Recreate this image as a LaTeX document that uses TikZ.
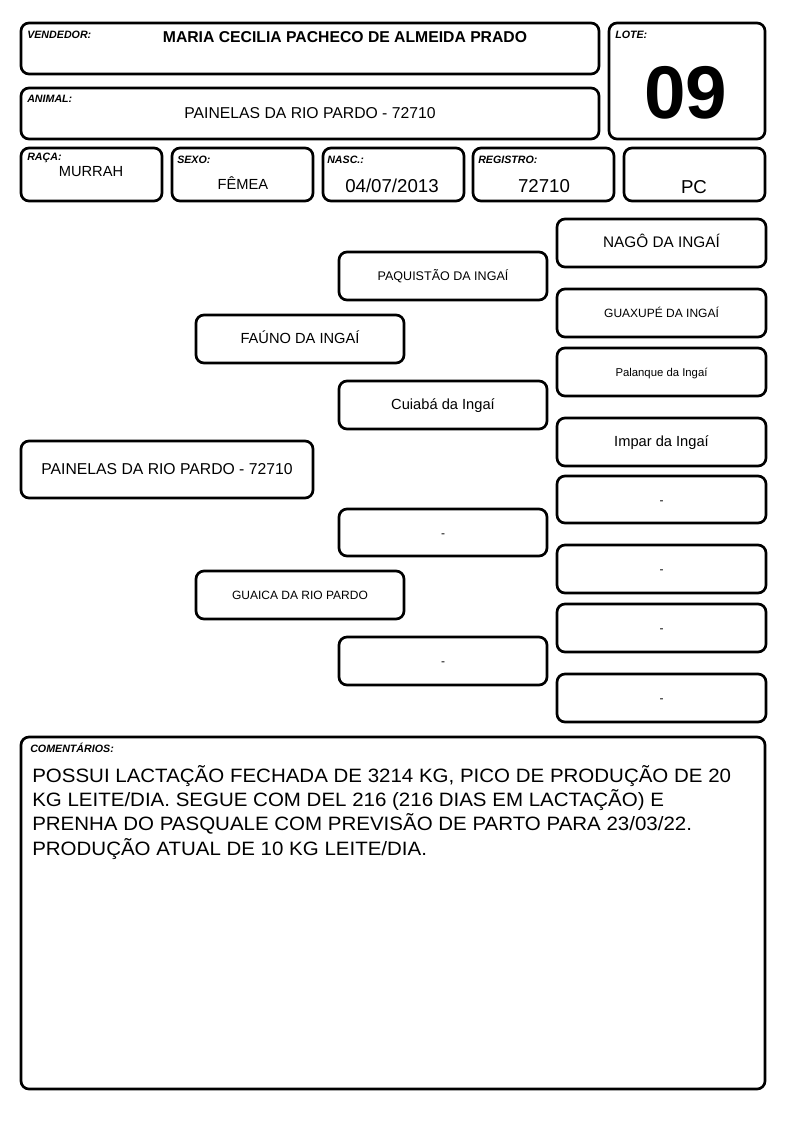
\documentclass[tikz,border=0pt]{standalone}
\usepackage{fontspec}
\setmainfont{Liberation Sans}
\newfontfamily\widefont[FakeStretch=1.06]{Liberation Sans}

\begin{document}
\begin{tikzpicture}[x=0.75pt,y=-0.75pt,
  pbox/.style={draw,rounded corners=6pt,line width=2pt,inner sep=0pt,text height=0.7em,text depth=0pt},
  fieldlbl/.style={anchor=west,inner sep=0pt,font=\fontsize{8}{9}\selectfont\bfseries\itshape},
  txt/.style={inner sep=0pt}]
\useasboundingbox (0,0) rectangle (794,1123);
% header
\node[pbox,minimum width=433.5pt,minimum height=38.25pt] (vend) at (310,48.5) {};
\node[pbox,minimum width=433.5pt,minimum height=38.25pt] (anim) at (310,113.5) {};
\node[pbox,minimum width=117pt,minimum height=87pt] (lote) at (687,81) {};
\node[pbox,minimum width=105.75pt,minimum height=39.75pt] (raca) at (91.5,174.5) {};
\node[pbox,minimum width=105.75pt,minimum height=39.75pt] (sexo) at (242.5,174.5) {};
\node[pbox,minimum width=105.75pt,minimum height=39.75pt] (nasc) at (393.5,174.5) {};
\node[pbox,minimum width=105.75pt,minimum height=39.75pt] (reg) at (543.5,174.5) {};
\node[pbox,minimum width=105.75pt,minimum height=39.75pt] (pc) at (694.5,174.5) {};
\node[fieldlbl] (vendlbl) at (27,35) {VENDEDOR:};
\node[fieldlbl] (animlbl) at (27,99) {ANIMAL:};
\node[fieldlbl] (lotelbl) at (615,35) {LOTE:};
\node[fieldlbl] (racalbl) at (27,158) {RAÇA:};
\node[fieldlbl] (sexolbl) at (177,160) {SEXO:};
\node[fieldlbl] (nasclbl) at (327,160) {NASC.:};
\node[fieldlbl] (reglbl) at (478,160) {REGISTRO:};
\node[txt,font=\fontsize{11.8}{12}\selectfont\bfseries] (vendtxt) at (345,37) {MARIA CECILIA PACHECO DE ALMEIDA PRADO};
\node[txt,font=\fontsize{11.8}{12}\selectfont] (animtxt) at (310,113) {PAINELAS DA RIO PARDO - 72710};
\node[txt,font=\fontsize{56}{56}\selectfont\bfseries] (lotetxt) at (686,93) {09};
\node[txt,font=\fontsize{11}{12}\selectfont] (racatxt) at (91,172) {MURRAH};
\node[txt,font=\fontsize{11}{12}\selectfont] (sexotxt) at (243,183) {FÊMEA};
\node[txt,font=\fontsize{14}{15}\selectfont] (nasctxt) at (392,186) {04/07/2013};
\node[txt,font=\fontsize{14}{15}\selectfont] (regtxt) at (544,186) {72710};
\node[txt,font=\fontsize{14}{15}\selectfont] (pctxt) at (694,187) {PC};
% pedigree
\node[pbox,minimum width=219pt,minimum height=42.75pt,font=\fontsize{11.8}{12}\selectfont] (a) at (167,469.5) {PAINELAS DA RIO PARDO - 72710};
\node[pbox,minimum width=156pt,minimum height=36pt,font=\fontsize{11}{12}\selectfont] (p) at (300,339) {FAÚNO DA INGAÍ};
\node[pbox,minimum width=156pt,minimum height=36pt,font=\fontsize{9}{10}\selectfont] (m) at (300,595) {GUAICA DA RIO PARDO};
\node[pbox,minimum width=156pt,minimum height=36pt,font=\fontsize{9.4}{10}\selectfont] (pp) at (443,276) {PAQUISTÃO DA INGAÍ};
\node[pbox,minimum width=156pt,minimum height=36pt,font=\fontsize{11}{12}\selectfont] (pm) at (443,405) {Cuiabá da Ingaí};
\node[pbox,minimum width=156pt,minimum height=35.25pt,font=\fontsize{9}{10}\selectfont] (mp) at (443,532.5) {-};
\node[pbox,minimum width=156pt,minimum height=36pt,font=\fontsize{9}{10}\selectfont] (mm) at (443,661) {-};
\node[pbox,minimum width=156.75pt,minimum height=36pt,font=\fontsize{11.5}{12}\selectfont] (ppp) at (661.5,243) {NAGÔ DA INGAÍ};
\node[pbox,minimum width=156.75pt,minimum height=36pt,font=\fontsize{9}{10}\selectfont] (ppm) at (661.5,313) {GUAXUPÉ DA INGAÍ};
\node[pbox,minimum width=156.75pt,minimum height=36pt,font=\fontsize{8.5}{10}\selectfont] (pmp) at (661.5,372) {Palanque da Ingaí};
\node[pbox,minimum width=156.75pt,minimum height=36pt,font=\fontsize{11}{12}\selectfont] (pmm) at (661.5,442) {Impar da Ingaí};
\node[pbox,minimum width=156.75pt,minimum height=35.25pt,font=\fontsize{9}{10}\selectfont] (mpp) at (661.5,499.5) {-};
\node[pbox,minimum width=156.75pt,minimum height=36pt,font=\fontsize{9}{10}\selectfont] (mpm) at (661.5,569) {-};
\node[pbox,minimum width=156.75pt,minimum height=36pt,font=\fontsize{9}{10}\selectfont] (mmp) at (661.5,628) {-};
\node[pbox,minimum width=156.75pt,minimum height=36pt,font=\fontsize{9}{10}\selectfont] (mmm) at (661.5,698) {-};
% comments
\node[pbox,minimum width=558pt,minimum height=264pt] (com) at (393,913) {};
\node[fieldlbl] (comlbl) at (30,748) {COMENTÁRIOS:};
\node[anchor=north west,inner sep=0pt,align=left,font=\widefont\fontsize{14.5}{18.2}\selectfont] (comtxt) at (32,765) {POSSUI LACTAÇÃO FECHADA DE 3214 KG, PICO DE PRODUÇÃO DE 20\\KG LEITE/DIA. SEGUE COM DEL 216 (216 DIAS EM LACTAÇÃO) E\\PRENHA DO PASQUALE COM PREVISÃO DE PARTO PARA 23/03/22.\\PRODUÇÃO ATUAL DE 10 KG LEITE/DIA.};
\end{tikzpicture}
\end{document}
